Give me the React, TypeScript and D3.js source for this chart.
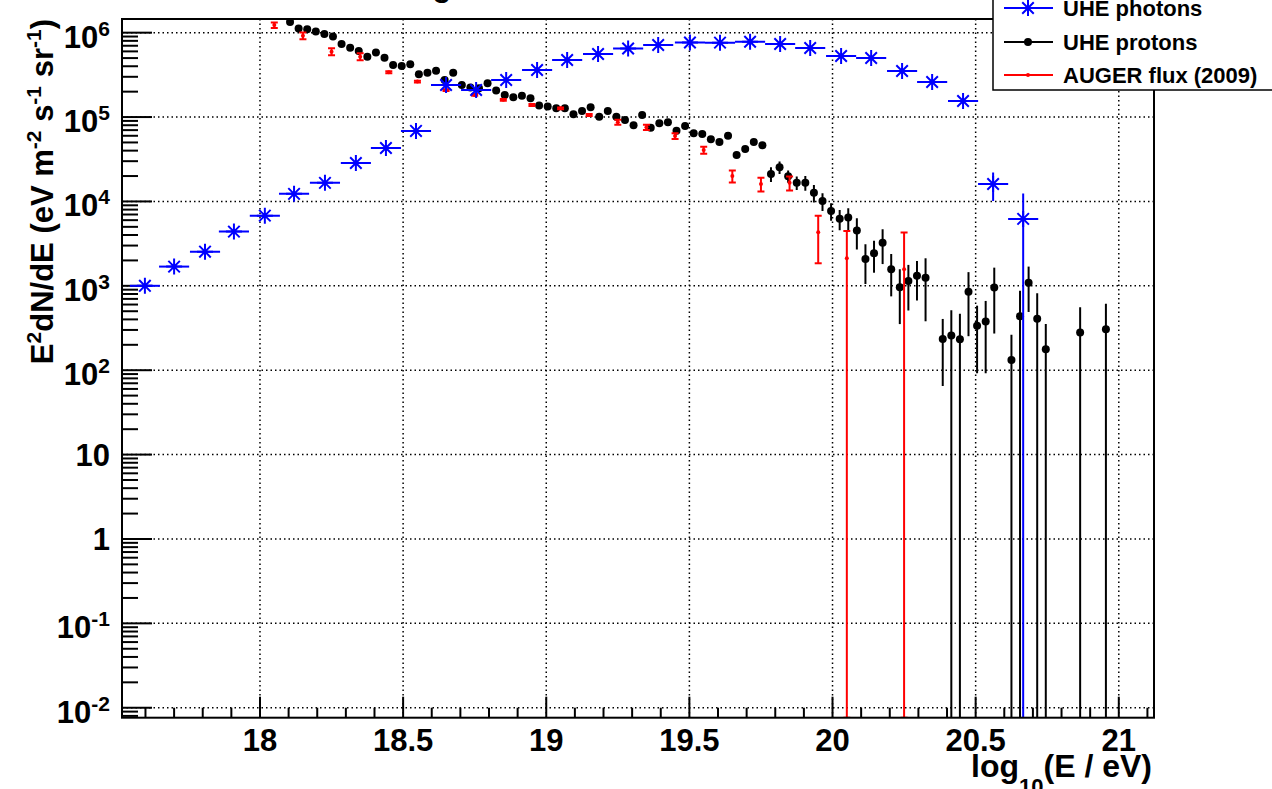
import React, { useEffect } from "react";
import * as d3 from "d3";

// ---------- data ----------
const photonE = [17.598, 17.7, 17.808, 17.909, 18.017, 18.119, 18.227, 18.335, 18.44, 18.545, 18.65, 18.755, 18.86, 18.968, 19.073, 19.181, 19.286, 19.391, 19.502, 19.607, 19.712, 19.817, 19.922, 20.03, 20.135, 20.243, 20.348, 20.456, 20.561, 20.666];
const photonFlux = [1000, 1690, 2540, 4390, 6790, 12300, 16600, 28600, 43000, 68500, 240000, 209000, 275000, 361000, 475000, 559000, 650000, 714000, 766000, 762000, 782000, 735000, 659000, 530000, 501000, 351000, 260000, 155000, 16100, 6210];
const photonErr = [0, 0, 0, 0, 0, 0, 0, 0, 0, 0, 0, 0, 0, 0, 0, 0, 0, 0, 0, 0, 0, 0, 0, 0, 0, 0, 0, 0, 6000, 6210];
const photonHalfBin = [0.0526];

const protonE = [18.105, 18.135, 18.165, 18.195, 18.225, 18.255, 18.285, 18.315, 18.345, 18.375, 18.405, 18.435, 18.465, 18.495, 18.525, 18.555, 18.585, 18.615, 18.645, 18.675, 18.705, 18.735, 18.765, 18.795, 18.825, 18.855, 18.885, 18.915, 18.945, 18.975, 19.005, 19.035, 19.065, 19.095, 19.125, 19.155, 19.185, 19.215, 19.245, 19.275, 19.305, 19.335, 19.365, 19.395, 19.425, 19.455, 19.485, 19.515, 19.545, 19.575, 19.605, 19.635, 19.665, 19.695, 19.725, 19.755, 19.785, 19.815, 19.845, 19.875, 19.905, 19.935, 19.965, 19.995, 20.025, 20.055, 20.085, 20.115, 20.145, 20.175, 20.205, 20.235, 20.265, 20.295, 20.325, 20.385, 20.415, 20.445, 20.475, 20.505, 20.535, 20.565, 20.625, 20.655, 20.685, 20.715, 20.745, 20.865, 20.955];
const protonFlux = [1340000, 1120000, 1100000, 1030000, 966000, 902000, 735000, 664000, 607000, 520000, 582000, 506000, 414000, 403000, 422000, 321000, 336000, 354000, 275000, 336000, 240000, 224000, 219000, 251000, 206000, 183000, 172000, 179000, 167000, 137000, 133000, 127000, 127000, 108000, 118000, 131000, 101000, 118000, 101000, 92500, 80000, 106000, 74800, 84500, 86800, 69000, 78500, 64300, 63100, 54600, 50700, 60200, 35600, 41900, 50700, 46300, 21200, 25400, 19900, 16700, 16700, 12700, 10100, 7710, 6250, 6430, 4510, 2080, 2430, 3250, 1570, 962, 1140, 1320, 1250, 235, 257, 233, 853, 337, 377, 957, 132, 436, 1090, 408, 177, 279, 306];
const protonErr = [40000, 34000, 33000, 31000, 29000, 27000, 22000, 20000, 18000, 16000, 17000, 15000, 12000, 12000, 13000, 10000, 10000, 11000, 8000, 10000, 7500, 7000, 7000, 8000, 6500, 6000, 5500, 5500, 5500, 4500, 4500, 4500, 4500, 4000, 4000, 4500, 4000, 4500, 4000, 4000, 4000, 5000, 4000, 4500, 4500, 4000, 4500, 4000, 4000, 3500, 3500, 4000, 3200, 3500, 4000, 3800, 4200, 4300, 3300, 3000, 3300, 3000, 2400, 1820, 1680, 1870, 1810, 1030, 1000, 1440, 820, 610, 630, 650, 870, 170, 257, 233, 600, 245, 285, 685, 132, 436, 600, 408, 177, 279, 306];

const augerE = [18.05, 18.15, 18.25, 18.35, 18.45, 18.55, 18.65, 18.75, 18.85, 18.95, 19.05, 19.15, 19.25, 19.35, 19.45, 19.55, 19.65, 19.75, 19.85, 19.95, 20.05, 20.25];
const augerFlux = [1230000, 921000, 596000, 520000, 340000, 263000, 209000, 183000, 160000, 139000, 127000, 106000, 86800, 75700, 59600, 40700, 20000, 16100, 16600, 4320, 2120, 1570];
const augerErr = [93000, 87000, 57000, 49000, 8500, 6500, 5000, 4500, 4000, 3500, 3000, 3000, 6000, 5500, 4600, 3900, 3200, 3000, 3100, 2470, 2350, 2700];

const xTickLabels = ["18", "18.5", "19", "19.5", "20", "20.5", "21"];
const yDecades = [-2, -1, 0, 1, 2, 3, 4, 5, 6];
const legendLabels = ["UHE photons", "UHE protons", "AUGER flux (2009)"];

// ---------- chart ----------
const FONT = "'Liberation Sans', Arial, Helvetica, sans-serif";
const L = 122, R = 1154, T = 19, B = 717.7;

function Star({ cx, cy, s }: { cx: number; cy: number; s: number }) {
  const d = s * 0.72;
  return (
    <path
      d={`M${cx - s},${cy}L${cx + s},${cy}M${cx},${cy - s}L${cx},${cy + s}M${cx - d},${cy - d}L${cx + d},${cy + d}M${cx - d},${cy + d}L${cx + d},${cy - d}`}
      stroke="#0000ff"
      strokeWidth={2}
      fill="none"
    />
  );
}

export default function App() {
  useEffect(() => {
    document.body.style.margin = "0";
    document.body.style.overflow = "hidden";
  }, []);

  const x = d3.scaleLinear().domain([17.518, 21.123]).range([L, R]);
  const y = d3.scaleLog().domain([Math.pow(10, -2.118), Math.pow(10, 6.162)]).range([B, T]);
  const yLow = (v: number, e: number) => (v - e <= y.domain()[0] ? B : y(v - e));

  const xMajor = xTickLabels.map(Number);
  const xMinor = d3.range(17.6, 21.12, 0.1).filter((v) => Math.abs(v * 2 - Math.round(v * 2)) > 0.01);
  const yMinor: number[] = [];
  for (let e = -3; e <= 6; e++) for (let m = 2; m <= 9; m++) {
    const v = m * Math.pow(10, e);
    if (y(v) <= B && y(v) >= T) yMinor.push(v);
  }

  return (
    <div style={{ position: "absolute", left: 0, top: 0 }}>
      <svg width={1272} height={789} style={{ display: "block", background: "#fff" }} fontFamily={FONT} fontWeight="bold">
        <defs>
          <clipPath id="frame">
            <rect x={L} y={T} width={R - L} height={B - T} />
          </clipPath>
        </defs>
        <rect x={0} y={0} width={1272} height={789} fill="#fff" />
        {/* cut title */}
        <text x={442} y={-4} fontSize={31} textAnchor="middle">g</text>

        {/* grid */}
        <g stroke="#000" strokeWidth={1.5} strokeDasharray="1.5,3">
          {xMajor.map((v) => (
            <line key={"gx" + v} x1={x(v)} x2={x(v)} y1={T} y2={B} />
          ))}
          {yDecades.map((e) => (
            <line key={"gy" + e} x1={L} x2={R} y1={y(Math.pow(10, e))} y2={y(Math.pow(10, e))} />
          ))}
        </g>

        {/* ticks */}
        <g stroke="#000" strokeWidth={2}>
          {xMajor.map((v) => (
            <line key={"tx" + v} x1={x(v)} x2={x(v)} y1={B} y2={B - 21} />
          ))}
          {xMinor.map((v) => (
            <line key={"mx" + v} x1={x(v)} x2={x(v)} y1={B} y2={B - 10} />
          ))}
          {yDecades.map((e) => (
            <line key={"ty" + e} x1={L} x2={L + 30} y1={y(Math.pow(10, e))} y2={y(Math.pow(10, e))} />
          ))}
          {yMinor.map((v, i) => (
            <line key={"my" + i} x1={L} x2={L + 16} y1={y(v)} y2={y(v)} />
          ))}
        </g>

        {/* data */}
        <g clipPath="url(#frame)">
          {/* protons */}
          <g stroke="#000" strokeWidth={2}>
            {protonE.map((e, i) => (
              <line key={"pe" + i} x1={x(e)} x2={x(e)} y1={y(protonFlux[i] + protonErr[i])} y2={yLow(protonFlux[i], protonErr[i])} />
            ))}
          </g>
          {protonE.map((e, i) => (
            <circle key={"pm" + i} cx={x(e)} cy={y(protonFlux[i])} r={4} fill="#000" />
          ))}
          {/* auger */}
          <g stroke="#ff0000" strokeWidth={2}>
            {augerE.map((e, i) => {
              const cx = x(e);
              const y1 = y(augerFlux[i] + augerErr[i]);
              const y2 = yLow(augerFlux[i], augerErr[i]);
              return (
                <g key={"ae" + i}>
                  <line x1={cx} x2={cx} y1={y1} y2={y2} />
                  <line x1={cx - 3.5} x2={cx + 3.5} y1={y1} y2={y1} />
                  <line x1={cx - 3.5} x2={cx + 3.5} y1={y2} y2={y2} />
                </g>
              );
            })}
          </g>
          {augerE.map((e, i) => (
            <circle key={"am" + i} cx={x(e)} cy={y(augerFlux[i])} r={2} fill="#ff0000" />
          ))}
          {/* photons */}
          <g stroke="#0000ff" strokeWidth={2}>
            {photonE.map((e, i) => (
              <g key={"ph" + i}>
                <line x1={x(e - photonHalfBin[0])} x2={x(e + photonHalfBin[0])} y1={y(photonFlux[i])} y2={y(photonFlux[i])} />
                {photonErr[i] > 0 && (
                  <line x1={x(e)} x2={x(e)} y1={y(photonFlux[i] + photonErr[i])} y2={yLow(photonFlux[i], photonErr[i])} />
                )}
              </g>
            ))}
          </g>
          {photonE.map((e, i) => (
            <Star key={"ps" + i} cx={x(e)} cy={y(photonFlux[i])} s={8} />
          ))}
        </g>

        {/* frame */}
        <rect x={L} y={T} width={R - L} height={B - T} fill="none" stroke="#000" strokeWidth={2} />

        {/* y tick labels */}
        <g fontSize={31} textAnchor="end">
          {yDecades.map((e) => {
            const ty = y(Math.pow(10, e));
            if (e === 0) return <text key={"yl" + e} x={110} y={ty + 11}>1</text>;
            if (e === 1) return <text key={"yl" + e} x={110} y={ty + 11}>10</text>;
            return (
              <text key={"yl" + e} x={110} y={ty + 15}>
                10<tspan fontSize={21} dy={-12}>{String(e)}</tspan>
              </text>
            );
          })}
        </g>

        {/* x tick labels */}
        <g fontSize={31} textAnchor="middle">
          {xTickLabels.map((t) => (
            <text key={"xl" + t} x={x(Number(t))} y={751}>{t}</text>
          ))}
        </g>

        {/* axis titles */}
        <text x={1152} y={777} fontSize={32} textAnchor="end">
          log<tspan fontSize={22} dy={17}>10</tspan><tspan dy={-17}>(E / eV)</tspan>
        </text>
        <text transform="translate(53,19) rotate(-90)" fontSize={31} textAnchor="end">
          E<tspan fontSize={21} dy={-12}>2</tspan><tspan dy={12}>dN/dE (eV m</tspan><tspan fontSize={21} dy={-12}>-2</tspan><tspan dy={12}> s</tspan><tspan fontSize={21} dy={-12}>-1</tspan><tspan dy={12}> sr</tspan><tspan fontSize={21} dy={-12}>-1</tspan><tspan dy={12}>)</tspan>
        </text>

        {/* legend */}
        <g>
          <rect x={993} y={-20} width={320} height={110} fill="#fff" stroke="#000" strokeWidth={1.5} />
          {legendLabels.map((lab, i) => {
            const cy = [8, 42, 75][i];
            const col = ["#0000ff", "#000", "#ff0000"][i];
            return (
              <g key={"lg" + i}>
                <line x1={1004} x2={1053} y1={cy} y2={cy} stroke={col} strokeWidth={2} />
                {i === 0 && <Star cx={1028} cy={cy} s={8} />}
                {i === 1 && <circle cx={1028} cy={cy} r={4} fill="#000" />}
                {i === 2 && <circle cx={1028} cy={cy} r={2} fill="#ff0000" />}
                <text x={1063} y={cy + 8} fontSize={22}>{lab}</text>
              </g>
            );
          })}
        </g>
      </svg>
    </div>
  );
}
